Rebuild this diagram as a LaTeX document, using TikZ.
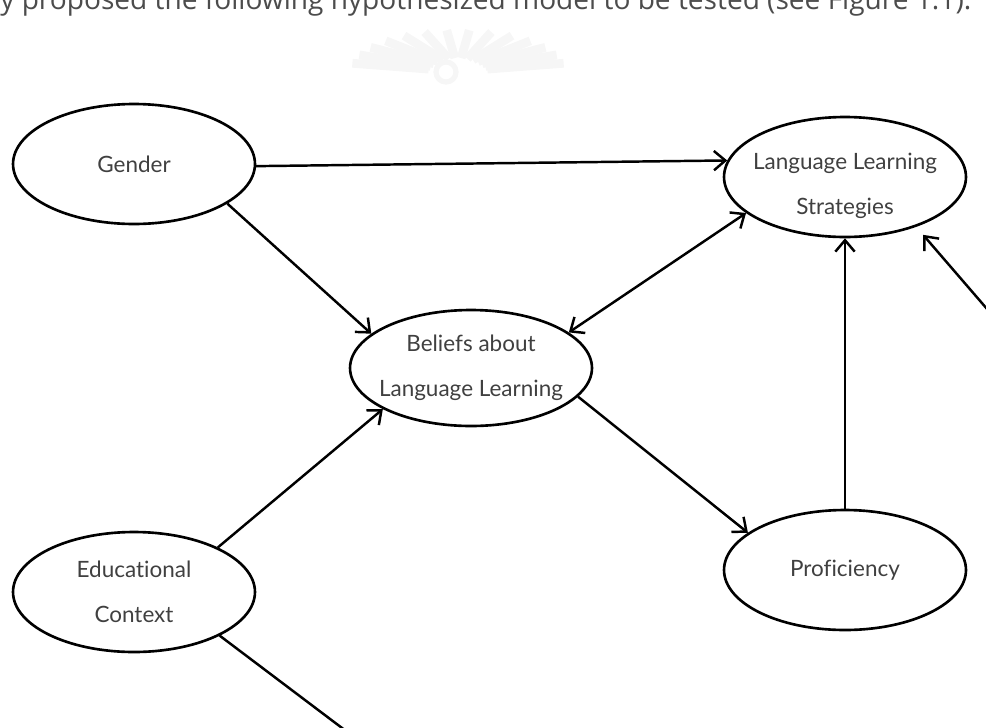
\documentclass[tikz,border=0pt]{standalone}
\usepackage{fontspec}
\setmainfont{Lato}[Ligatures=NoCommon]
\newfontfamily\capfont{Open Sans}
\usetikzlibrary{shapes.geometric,arrows.meta}

\tikzset{
	var/.style={draw, ellipse, line width=1.5pt, minimum width=4.84cm, minimum height=2.4cm,
		inner xsep=-4pt, inner ysep=0pt, align=center, text=black!75,
		font=\fontsize{12.8}{25.5}\selectfont},
	lbl/.style={align=center, text=black!75, font=\fontsize{12.8}{25.5}\selectfont},
	link/.style={line width=1.4pt}
}

\begin{document}
\begin{tikzpicture}[x=0.02cm, y=-0.02cm, >={Straight Barb[length=6.5pt,width=11pt]}]
		\useasboundingbox (0,0) rectangle (986,727);
		\clip (0,0) rectangle (986,727);

		% faint watermark
		\begin{scope}[shift={(458,72)}, gray!7, line width=5pt]
			\foreach \a in {12,24,...,168}
				\draw (-\a:30 and 14) -- (-\a:108 and 42);
			\draw[line width=3pt] (-12,0) circle (10);
		\end{scope}

		\node[anchor=base west, inner sep=0pt, text=black!70] (cap) at (0,9.5)
			{\resizebox{19.42cm}{!}{\capfont y proposed the following hypothesized model to be tested (see Figure 1.1).}};

		\node[var] (gen) at (134,164) {Gender};
		\node[var, label={[lbl, yshift=-5pt]center:Language Learning\\Strategies}] (lls) at (845,177) {};
		\node[var, minimum height=2.32cm] (bel) at (471,368) {Beliefs about\\Language Learning};
		\node[var] (edu) at (134,592) {Educational\\Context};
		\node[var] (prof) at (845,570) {Proficiency};

		\coordinate (rgt) at (1000,324);
		\coordinate (bot) at (350,734);

		\draw[link,->] (gen.-1) -- (lls.172);
		\draw[link,->] (gen.-23) -- (bel.161);
		\draw[link,<->] (lls.200) -- (bel.20);
		\draw[link,->] (edu.28) -- (bel.205);
		\draw[link,->] (bel.-15) -- (prof.159);
		\draw[link,->] (prof.north) -- (lls.south);
		\draw[link,->,shorten >=6pt] (rgt) -- (lls.-35);
		\draw[link] (edu.-27) -- (bot);
	\end{tikzpicture}
\end{document}
